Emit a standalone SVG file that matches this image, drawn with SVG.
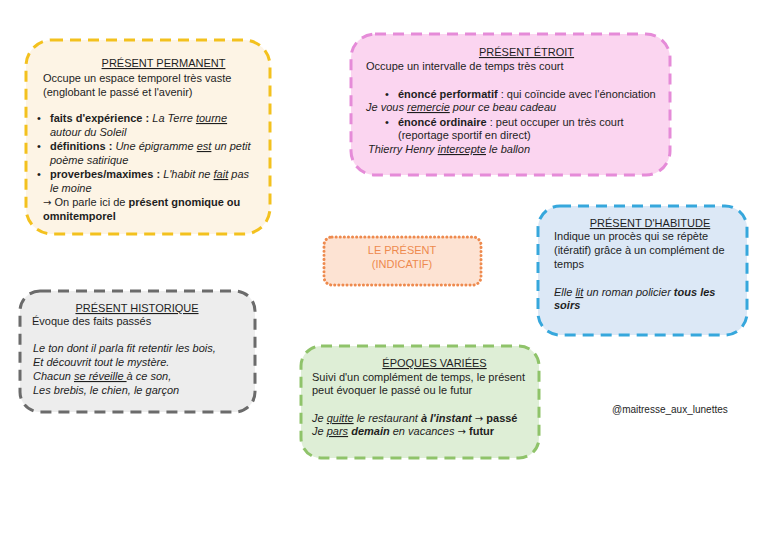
<svg xmlns="http://www.w3.org/2000/svg" width="768" height="543" viewBox="0 0 768 543">
<style>
text{font-family:"Liberation Sans","DejaVu Sans",sans-serif;font-size:11px;fill:#1e1e1e}
.t{text-anchor:middle;text-decoration:underline}
.b{font-weight:bold}
.i{font-style:italic}
.u{text-decoration:underline}
.a{font-family:"DejaVu Sans",sans-serif;font-size:10px;font-style:normal}
.box{stroke-width:3;stroke-dasharray:11 7;stroke-linecap:butt}
</style>
<rect width="768" height="543" fill="#ffffff"/>
<g id="connectors"></g>
<g id="permanent">
<rect class="box" x="26" y="40" width="244" height="194" rx="26" fill="#fdf4e5" stroke="#f3c11e"/>
<text class="t" x="163.5" y="67">PRÉSENT PERMANENT</text>
<text x="43" y="82">Occupe un espace temporel très vaste</text>
<text x="43" y="96">(englobant le passé et l'avenir)</text>
<text x="37" y="122">•</text>
<text x="50" y="122"><tspan class="b">faits d'expérience :</tspan> <tspan class="i">La Terre </tspan><tspan class="i u">tourne</tspan></text>
<text class="i" x="50" y="136">autour du Soleil</text>
<text x="37" y="150">•</text>
<text x="50" y="150"><tspan class="b">définitions :</tspan> <tspan class="i">Une épigramme </tspan><tspan class="i u">est</tspan><tspan class="i"> un petit</tspan></text>
<text class="i" x="50" y="164">poème satirique</text>
<text x="37" y="178">•</text>
<text x="50" y="178"><tspan class="b">proverbes/maximes :</tspan> <tspan class="i">L'habit ne </tspan><tspan class="i u">fait</tspan><tspan class="i"> pas</tspan></text>
<text class="i" x="50" y="192">le moine</text>
<text x="43" y="206"><tspan class="a">→</tspan> On parle ici de <tspan class="b">présent gnomique ou</tspan></text>
<text class="b" x="43" y="220">omnitemporel</text>
</g>
<g id="etroit">
<rect class="box" x="351" y="34" width="319" height="141" rx="24" fill="#fbd5f0" stroke="#e58bd8"/>
<text class="t" x="526.5" y="56">PRÉSENT ÉTROIT</text>
<text x="366" y="70">Occupe un intervalle de temps très court</text>
<text x="385" y="98">•</text>
<text x="398" y="98"><tspan class="b">énoncé performatif</tspan> : qui coïncide avec l'énonciation</text>
<text class="i" x="366" y="111">Je vous <tspan class="u">remercie</tspan> pour ce beau cadeau</text>
<text x="385" y="126">•</text>
<text x="398" y="126"><tspan class="b">énoncé ordinaire</tspan> : peut occuper un très court</text>
<text x="398" y="139">(reportage sportif en direct)</text>
<text class="i" x="368" y="153">Thierry Henry <tspan class="u">intercepte</tspan> le ballon</text>
</g>
<g id="habitude">
<rect class="box" x="538" y="206" width="209" height="129" rx="22" fill="#dce8f6" stroke="#36a7dc"/>
<text class="t" x="650" y="227">PRÉSENT D'HABITUDE</text>
<text x="554" y="240">Indique un procès qui se répète</text>
<text x="554" y="254">(itératif) grâce à un complément de</text>
<text x="554" y="268">temps</text>
<text class="i" x="554" y="296">Elle <tspan class="u">lit</tspan> un roman policier <tspan class="b">tous les</tspan></text>
<text class="i b" x="554" y="309">soirs</text>
</g>
<g id="historique">
<rect class="box" x="20" y="291" width="235" height="121" rx="20" fill="#ededed" stroke="#6b6b6b"/>
<text class="t" x="137" y="312">PRÉSENT HISTORIQUE</text>
<text x="32" y="325">Évoque des faits passés</text>
<text class="i" x="33" y="352">Le ton dont il parla fit retentir les bois,</text>
<text class="i" x="33" y="366">Et découvrit tout le mystère.</text>
<text class="i" x="33" y="380">Chacun <tspan class="u">se réveille </tspan>à ce son,</text>
<text class="i" x="33" y="394">Les brebis, le chien, le garçon</text>
</g>
<g id="epoques">
<rect class="box" x="301" y="346" width="238" height="112" rx="20" fill="#deeed6" stroke="#8fc36a"/>
<text class="t" x="434.5" y="367">ÉPOQUES VARIÉES</text>
<text x="312" y="381">Suivi d'un complément de temps, le présent</text>
<text x="312" y="394">peut évoquer le passé ou le futur</text>
<text x="312" y="422"><tspan class="i">Je </tspan><tspan class="i u">quitte</tspan><tspan class="i"> le restaurant </tspan><tspan class="i b">à l'instant</tspan> <tspan class="a">→</tspan> <tspan class="b">passé</tspan></text>
<text x="312" y="435"><tspan class="i">Je </tspan><tspan class="i u">pars</tspan><tspan class="i"> </tspan><tspan class="i b">demain</tspan><tspan class="i"> en vacances</tspan> <tspan class="a">→</tspan> <tspan class="b">futur</tspan></text>
</g>
<g id="center">
<rect x="324" y="237" width="157" height="48" rx="8" fill="#fde3d3" stroke="#ee8a4e" stroke-width="3" stroke-dasharray="0.1 4" stroke-linecap="round"/>
<text x="402" y="254" text-anchor="middle" style="fill:#ee8a4e">LE PRÉSENT</text>
<text x="402" y="268" text-anchor="middle" style="fill:#ee8a4e">(INDICATIF)</text>
</g>
<g id="watermark">
<text x="612" y="413" style="font-size:10px">@maitresse_aux_lunettes</text>
</g>
</svg>
